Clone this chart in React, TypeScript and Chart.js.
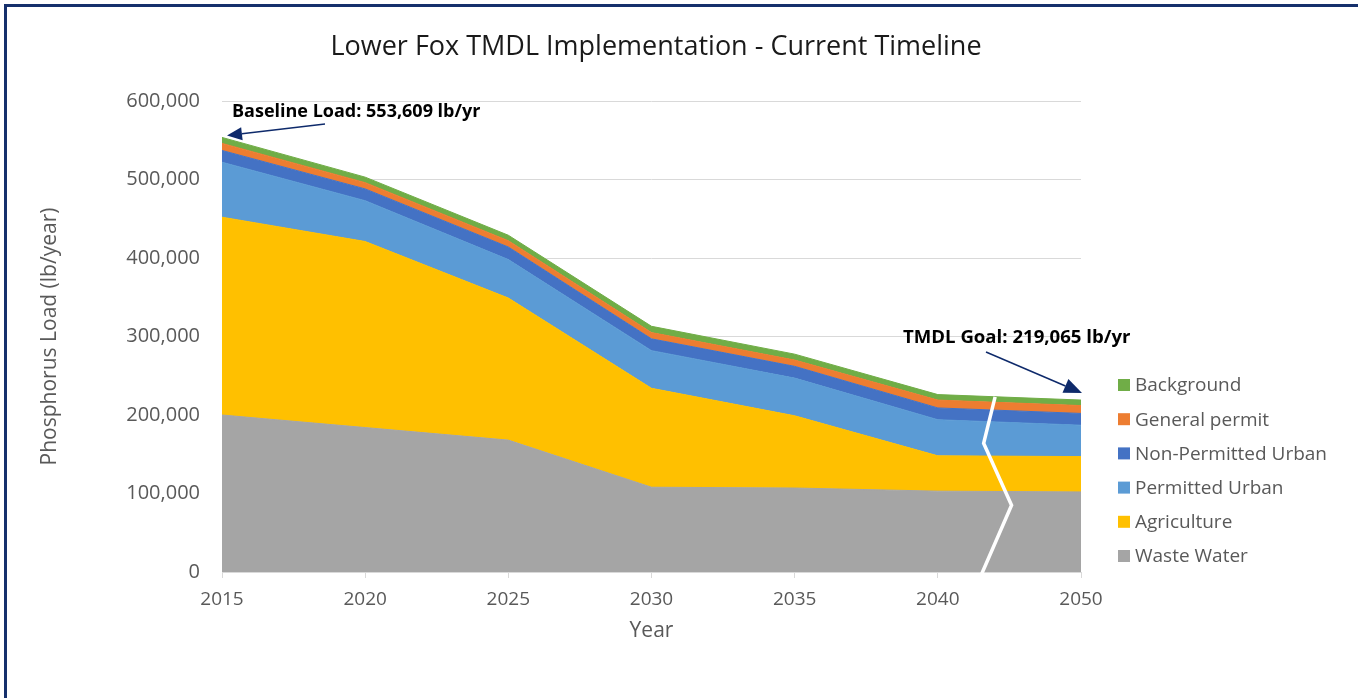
import { useEffect, useRef } from 'react';
import { Chart, registerables } from 'chart.js';

Chart.register(...registerables);

// ---- Data ----
const years = ['2015', '2020', '2025', '2030', '2035', '2040', '2050'];
const wasteWater = [200000, 184000, 168000, 108000, 107000, 103000, 102000];
const agriculture = [252000, 237000, 181000, 126000, 92000, 45000, 45000];
const permittedUrban = [70000, 52000, 49000, 48000, 48000, 46000, 40000];
const nonPermittedUrban = [15000, 15000, 16000, 15000, 15000, 15000, 15000];
const generalPermit = [9000, 8000, 8000, 8000, 8000, 10000, 10000];
const background = [7609, 7000, 7000, 8000, 7500, 7000, 7065];

const seriesLabels = ['Waste Water', 'Agriculture', 'Permitted Urban', 'Non-Permitted Urban', 'General permit', 'Background'];
const seriesColors = ['#A5A5A5', '#FFC000', '#5B9BD5', '#4472C4', '#ED7D31', '#70AD47'];
const seriesValues = [wasteWater, agriculture, permittedUrban, nonPermittedUrban, generalPermit, background];

const yTicksMax = 600000;
const yTickStep = 100000;

const baselineLoad = 553609;
const tmdlGoal = 219065;
const baselineText = 'Baseline Load: 553,609 lb/yr';
const goalText = 'TMDL Goal: 219,065 lb/yr';
const titleText = 'Lower Fox TMDL Implementation - Current Timeline';

// axis-break decoration (category index, value)
const breakMark: [number, number][] = [
  [5.306, 0],
  [5.515, 85000],
  [5.32, 164000],
  [5.4, 223000],
];

const FONT = '"Open Sans", "DejaVu Sans", sans-serif';
const GREY = '#595959';
const NAVY = '#0E2A6B';

function drawArrow(ctx: CanvasRenderingContext2D, x1: number, y1: number, x2: number, y2: number, headLen: number, headHalf: number) {
  const ang = Math.atan2(y2 - y1, x2 - x1);
  const bx = x2 - Math.cos(ang) * headLen;
  const by = y2 - Math.sin(ang) * headLen;
  ctx.strokeStyle = NAVY;
  ctx.fillStyle = NAVY;
  ctx.lineWidth = 1.5;
  ctx.beginPath();
  ctx.moveTo(x1, y1);
  ctx.lineTo(bx, by);
  ctx.stroke();
  ctx.beginPath();
  ctx.moveTo(x2, y2);
  ctx.lineTo(bx + Math.sin(ang) * headHalf, by - Math.cos(ang) * headHalf);
  ctx.lineTo(bx - Math.sin(ang) * headHalf, by + Math.cos(ang) * headHalf);
  ctx.closePath();
  ctx.fill();
}

export default function App() {
  const ref = useRef<HTMLCanvasElement>(null);

  useEffect(() => {
    const canvas = ref.current;
    if (!canvas) return;

    const overlay = {
      id: 'overlay',
      afterDatasetsDraw(chart: any) {
        const { ctx, scales } = chart;
        ctx.save();
        ctx.strokeStyle = '#FFFFFF';
        ctx.lineWidth = 3.5;
        ctx.lineJoin = 'miter';
        ctx.beginPath();
        breakMark.forEach(([xi, v], i) => {
          const px = scales.x.getPixelForValue(xi);
          const py = scales.y.getPixelForValue(v);
          if (i === 0) ctx.moveTo(px, py + 2);
          else ctx.lineTo(px, py);
        });
        ctx.stroke();
        ctx.restore();
      },
      afterDraw(chart: any) {
        const { ctx, scales } = chart;
        ctx.save();
        // frame
        ctx.strokeStyle = '#16306C';
        ctx.lineWidth = 3;
        ctx.beginPath();
        ctx.moveTo(5.5, 720);
        ctx.lineTo(5.5, 5.5);
        ctx.lineTo(1400, 5.5);
        ctx.stroke();

        // title
        ctx.fillStyle = '#1A1A1A';
        ctx.font = `27px ${FONT}`;
        ctx.textAlign = 'center';
        ctx.textBaseline = 'middle';
        ctx.fillText(titleText, 656, 47);

        // legend (reverse order)
        ctx.textAlign = 'left';
        ctx.font = `19px ${FONT}`;
        const ds = chart.data.datasets;
        for (let k = 0; k < ds.length; k++) {
          const d = ds[ds.length - 1 - k];
          const y = 385 + k * 34.2;
          ctx.fillStyle = d.backgroundColor;
          ctx.fillRect(1118, y - 6, 12, 12);
          ctx.fillStyle = GREY;
          ctx.fillText(d.label, 1135, y + 1);
        }

        // annotations
        ctx.fillStyle = '#000000';
        ctx.font = `bold 18px ${FONT}`;
        ctx.fillText(baselineText, 232, 112);
        ctx.font = `bold 18.6px ${FONT}`;
        ctx.fillText(goalText, 903, 338);

        const bx = scales.x.getPixelForValue(0);
        const by = scales.y.getPixelForValue(baselineLoad);
        drawArrow(ctx, 325, 124, bx + 5, by - 2, 15, 6.5);

        const gx = scales.x.getPixelForValue(years.length - 1);
        const gy = scales.y.getPixelForValue(tmdlGoal);
        drawArrow(ctx, 986, 352, gx + 1, gy - 7, 18, 7.5);

        ctx.restore();
      },
    };

    const chart = new Chart(canvas, {
      type: 'line',
      data: {
        labels: years,
        datasets: seriesValues.map((vals, i) => ({
          label: seriesLabels[i],
          data: vals,
          backgroundColor: seriesColors[i],
          borderColor: seriesColors[i],
          borderWidth: 1,
          fill: i === 0 ? 'origin' : '-1',
          pointRadius: 0,
          pointHoverRadius: 0,
          tension: 0,
        })),
      },
      options: {
        responsive: true,
        maintainAspectRatio: false,
        animation: false,
        layout: { padding: { left: 0, right: 277, top: 101, bottom: 46 } },
        plugins: {
          legend: { display: false },
          title: { display: false },
          tooltip: { enabled: false },
        },
        scales: {
          x: {
            offset: false,
            grid: { display: true, drawOnChartArea: false, drawTicks: true, tickLength: 6, color: '#D9D9D9' },
            border: { display: true, color: '#D9D9D9', width: 1 },
            ticks: { color: GREY, font: { family: FONT, size: 19 }, padding: 10, maxRotation: 0, autoSkip: false },
            title: { display: true, text: 'Year', color: GREY, font: { family: FONT, size: 21 }, padding: { top: 0, bottom: 8 } },
            afterFit: (scale: any) => { scale.height = 80; },
          },
          y: {
            stacked: true,
            min: 0,
            max: yTicksMax,
            grid: { color: '#D9D9D9', drawTicks: false },
            border: { display: false },
            ticks: {
              stepSize: yTickStep,
              color: GREY,
              font: { family: FONT, size: 20 },
              padding: 22,
              callback: (v: any) => Number(v).toLocaleString('en-US'),
            },
            title: { display: true, text: 'Phosphorus Load (lb/year)', color: GREY, font: { family: FONT, size: 21 }, padding: { top: 37, bottom: 0 } },
            afterFit: (scale: any) => { scale.width = 222; },
          },
        },
      },
      plugins: [overlay],
    });

    return () => chart.destroy();
  }, []);

  return (
    <div style={{ position: 'fixed', left: 0, top: 0, width: 1358, height: 698, background: '#FFFFFF' }}>
      <canvas ref={ref} />
    </div>
  );
}
